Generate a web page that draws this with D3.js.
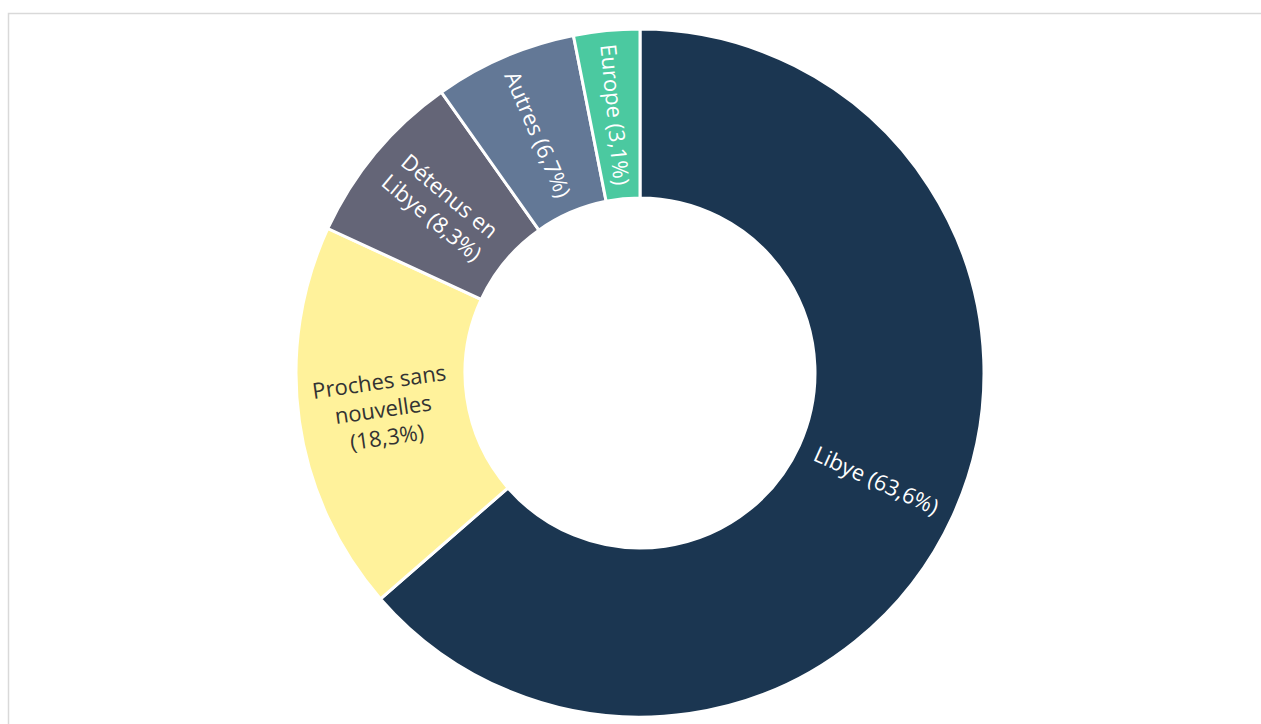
<!DOCTYPE html>
<html>
<head>
<meta charset="utf-8">
<script src="https://cdn.jsdelivr.net/npm/d3@7"></script>
<style>
  html, body { margin: 0; padding: 0; background: #ffffff; }
  svg { display: block; }
</style>
</head>
<body>
<svg id="chart" width="1261" height="724"></svg>
<script>
// Share of cases by situation (percent)
const categories = ["Libye", "Proches sans nouvelles", "Détenus en Libye", "Autres", "Europe"];
const values = [63.6, 18.3, 8.3, 6.7, 3.1];
const labelLines = [
  ["Libye (63,6%)"],
  ["Proches sans", "nouvelles", "(18,3%)"],
  ["Détenus en", "Libye (8,3%)"],
  ["Autres (6,7%)"],
  ["Europe (3,1%)"]
];
const colors = ["#1b3651", "#fff29b", "#646577", "#637896", "#4bc9a0"];
const textColors = ["#ffffff", "#333333", "#ffffff", "#ffffff", "#ffffff"];

const W = 1261, H = 724;
const cx = 640, cy = 373;
const outerR = 344, innerR = 175;

const svg = d3.select("#chart");

// frame
svg.append("rect")
  .attr("x", 8.5).attr("y", 13.5)
  .attr("width", W + 10).attr("height", H + 10)
  .attr("fill", "none").attr("stroke", "#d9d9d9").attr("stroke-width", 1.5);

const data = categories.map((c, i) => ({ name: c, value: values[i], i }));

const pie = d3.pie().value(d => d.value).sort(null);
const arc = d3.arc().innerRadius(innerR).outerRadius(outerR);

const g = svg.append("g").attr("transform", `translate(${cx},${cy})`);
const arcs = pie(data);

g.selectAll("path.slice")
  .data(arcs)
  .join("path")
  .attr("class", "slice")
  .attr("d", arc)
  .attr("fill", d => colors[d.data.i])
  .attr("stroke", "#ffffff")
  .attr("stroke-width", 3)
  .attr("stroke-linejoin", "miter");

const fontSize = 22, lineH = 28;
const labels = g.selectAll("g.label")
  .data(arcs)
  .join("g")
  .attr("class", "label")
  .attr("transform", d => {
    const [x, y] = arc.centroid(d);
    const mid = (d.startAngle + d.endAngle) / 2 * 180 / Math.PI;
    const rot = mid < 180 ? mid - 90 : mid - 270;
    return `translate(${x},${y}) rotate(${rot})`;
  });

labels.each(function(d) {
  const lines = labelLines[d.data.i];
  const t = d3.select(this).append("text")
    .attr("text-anchor", "middle")
    .attr("font-family", "'Open Sans', 'Noto Sans', sans-serif")
    .attr("font-size", fontSize)
    .attr("fill", textColors[d.data.i]);
  lines.forEach((ln, k) => {
    t.append("tspan")
      .attr("x", 0)
      .attr("y", (k - (lines.length - 1) / 2) * lineH)
      .attr("dy", "0.35em")
      .text(ln);
  });
});
</script>
</body>
</html>
